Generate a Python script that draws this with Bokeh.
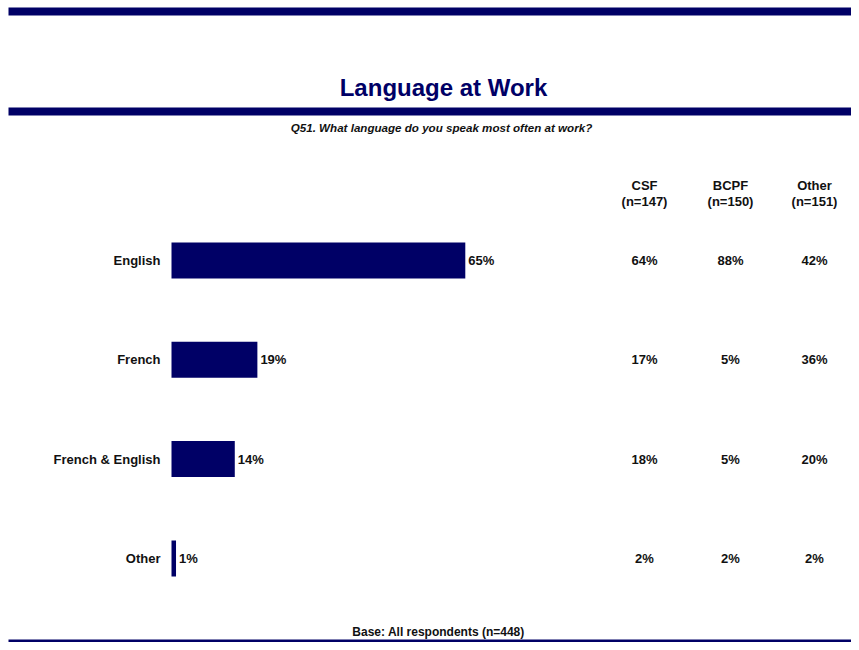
from bokeh.plotting import figure
from bokeh.models import Range1d, ColumnDataSource, Label
from bokeh.core.properties import value
from bokeh.embed import file_html
from bokeh.resources import INLINE

# ---- data ----
categories = ["English", "French", "French & English", "Other"]
total_pct = [65, 19, 14, 1]
group_names = ["CSF", "BCPF", "Other"]
group_n = ["(n=147)", "(n=150)", "(n=151)"]
csf_pct = [64, 17, 18, 2]
bcpf_pct = [88, 5, 5, 2]
other_pct = [42, 36, 20, 2]

title = "Language at Work"
subtitle = "Q51. What language do you speak most often at work?"
base_note = "Base: All respondents (n=448)"

NAVY = "#000066"
TXT = "#111111"
FONT = "Liberation Sans"

# ---- layout helpers (pixel -> data units) ----
X0, XS = 171.0, 4.52      # x pixel of 0%, pixels per %
Y0, YS = 260.0, 99.3      # y pixel of first row, pixels per row


def X(px):
    return (px - X0) / XS


def Y(py):
    return (py - Y0) / YS


W, H = 851, 642
p = figure(width=W, height=H, output_backend="svg", toolbar_location=None,
           x_range=Range1d(X(0), X(W)), y_range=Range1d(Y(H), Y(0)),
           min_border=0, min_border_left=0, min_border_right=0,
           min_border_top=0, min_border_bottom=0)
p.axis.visible = False
p.grid.visible = False
p.outline_line_color = None
p.background_fill_color = "white"
p.border_fill_color = "white"

# header / footer rules
p.quad(left=[X(8), X(8), X(8)], right=[X(W), X(W), X(W)],
       top=[Y(7), Y(107), Y(H - 3)], bottom=[Y(15), Y(115), Y(H)],
       fill_color=NAVY, line_color=None)

rows = list(range(len(categories)))
src = ColumnDataSource(dict(
    y=rows, cat=categories, v=total_pct,
    vlab=[f"{v}%" for v in total_pct],
    csf=[f"{v}%" for v in csf_pct],
    bcpf=[f"{v}%" for v in bcpf_pct],
    oth=[f"{v}%" for v in other_pct],
))

# bars
p.hbar(y="y", left=0, right="v", height=36 / YS, source=src,
       fill_color=NAVY, line_color=None)

common = dict(text_font=value(FONT), text_font_style="bold",
              text_font_size="13px", text_color=TXT, text_baseline="middle")

# category labels
p.text(x=X(160), y="y", text="cat", text_align="right", source=src, **common)
# value labels
p.text(x="v", y="y", text="vlab", x_offset=3, text_align="left", source=src, **common)

# table columns
col_x = [644, 730, 814]
for cx, key in zip(col_x, ["csf", "bcpf", "oth"]):
    p.text(x=X(cx), y="y", text=key, text_align="center", source=src, **common)

hdr = ColumnDataSource(dict(x=[X(c) for c in col_x], name=group_names, n=group_n))
p.text(x="x", y=Y(185), text="name", text_align="center", source=hdr, **common)
p.text(x="x", y=Y(201), text="n", text_align="center", source=hdr, **common)

# titles
p.add_layout(Label(x=X(443), y=Y(87), text=title, text_align="center",
                   text_baseline="middle", text_font=FONT, text_font_style="bold",
                   text_font_size="24px", text_color=NAVY))
p.add_layout(Label(x=X(441), y=Y(127), text=subtitle, text_align="center",
                   text_baseline="middle", text_font=FONT, text_font_style="bold italic",
                   text_font_size="11.6px", text_color=TXT))
p.add_layout(Label(x=X(438), y=Y(631), text=base_note, text_align="center",
                   text_baseline="middle", text_font=FONT, text_font_style="bold",
                   text_font_size="12px", text_color=TXT))

open("out.html", "w").write(file_html(p, INLINE))
